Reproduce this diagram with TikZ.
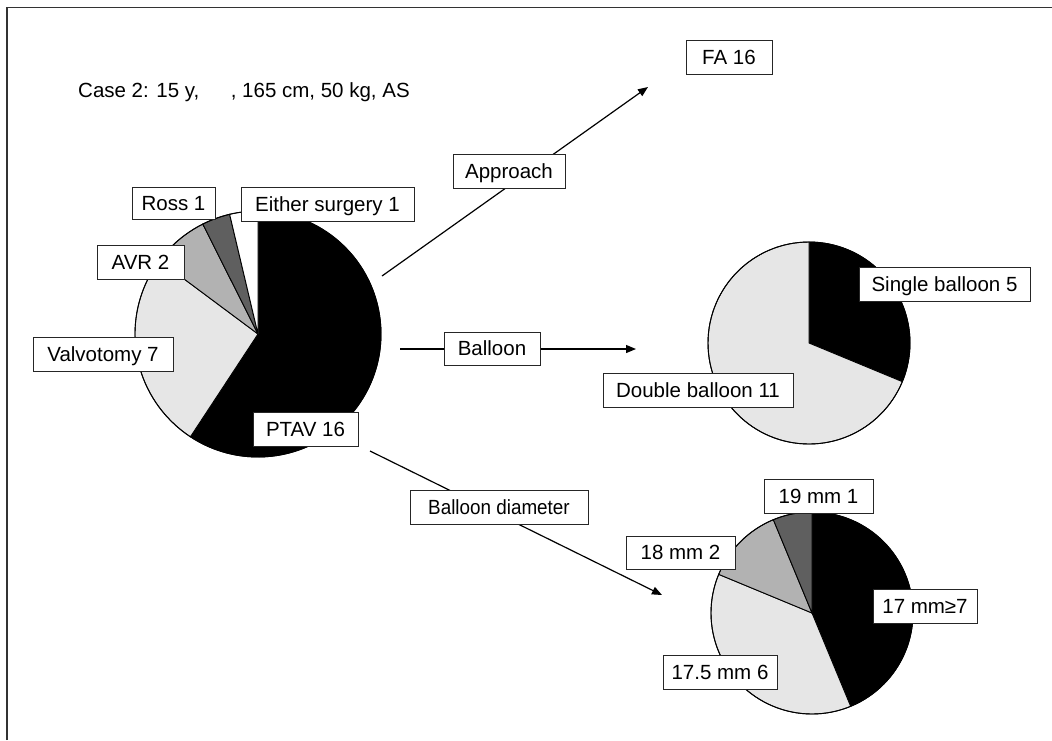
\documentclass[tikz,border=0pt]{standalone}
\usepackage{fontspec}
\setmainfont{Liberation Sans}
\usetikzlibrary{arrows.meta}
\definecolor{sliceLight}{HTML}{E6E6E6}
\definecolor{sliceMid}{HTML}{B2B2B2}
\definecolor{sliceDark}{HTML}{5F5F5F}
% one pie sector: centre x, centre y, radius, start angle, end angle (ccw), fill
\newcommand{\drawslice}[6]{%
  \filldraw[slice, fill=#6] (#1,#2) -- ++({-(#4)}:#3)
    arc[start angle={-(#4)}, end angle={-(#5)}, radius=#3] -- cycle;}
\begin{document}
\begin{tikzpicture}[x=1pt, y=-1pt,
  slice/.style={draw=black, line width=0.9pt},
  rim/.style={draw=black, line width=0.9pt},
  conn/.style={line width=1.2pt, -{Triangle[length=10pt, width=8pt]}},
  lbl/.style={draw=black!85, line width=0.9pt, fill=white, inner sep=0pt,
    minimum height=34pt, text height=14.7pt, text depth=0pt,
    font=\fontsize{20.5}{24}\selectfont},
  frame/.style={draw=black!80, line width=1.6pt}]
\useasboundingbox (0,0) rectangle (1052,740);

% page frame
\draw[frame] (6.8,740) -- (6.8,7.5) -- (1052,7.5);

% heading
\node[anchor=base west, inner sep=0pt, font=\fontsize{20.5}{24}\selectfont]
  (head) at (78,97) {Case 2: 15 y,\hspace{31.5pt}, 165 cm, 50 kg, AS};

% treatment pie
\drawslice{258}{334}{123}{236.67}{450}{black}
\drawslice{258}{334}{123}{143.33}{236.67}{sliceLight}
\drawslice{258}{334}{123}{116.67}{143.33}{sliceMid}
\drawslice{258}{334}{123}{103.33}{116.67}{sliceDark}
\drawslice{258}{334}{123}{90}{103.33}{white}
\draw[rim] (258,334) circle[radius=123];

% balloon pie
\drawslice{809}{343}{101}{-22.5}{90}{black}
\drawslice{809}{343}{101}{90}{337.5}{sliceLight}
\draw[rim] (809,343) circle[radius=101];

% balloon diameter pie
\drawslice{812}{613}{101}{-67.5}{90}{black}
\drawslice{812}{613}{101}{157.5}{292.5}{sliceLight}
\drawslice{812}{613}{101}{112.5}{157.5}{sliceMid}
\drawslice{812}{613}{101}{90}{112.5}{sliceDark}
\draw[rim] (812,613) circle[radius=101];

% connectors
\coordinate (apS) at (382,276);
\coordinate (apE) at (648,87);
\coordinate (baS) at (400,349);
\coordinate (baE) at (636,349);
\coordinate (bdS) at (370,451);
\coordinate (bdE) at (662,595);
\draw[conn] (apS) -- (apE);
\draw[conn] (baS) -- (baE);
\draw[conn] (bdS) -- (bdE);

% connector labels
\node[lbl, minimum width=112pt] (approach) at (509,171) {Approach};
\node[lbl, minimum width=96pt, minimum height=33pt] (balloon) at (492,348.5) {Balloon};
\node[lbl, minimum width=178pt] (diam) at (499,507) {\scalebox{0.92}[1]{Balloon diameter}};
\node[lbl, minimum width=86pt] (fa) at (729,57) {FA 16};

% treatment labels
\node[lbl, minimum width=83pt, minimum height=32pt] (ross) at (173.5,203) {Ross 1};
\node[lbl, minimum width=173pt] (either) at (327.5,204) {Either surgery 1};
\node[lbl, minimum width=87pt] (avr) at (140.5,262) {AVR 2};
\node[lbl, minimum width=140pt] (valv) at (103,354) {Valvotomy 7};
\node[lbl, minimum width=105pt] (ptav) at (305.5,429) {PTAV 16};

% balloon labels
\node[lbl, minimum width=171pt] (single) at (944.5,284) {Single balloon 5};
\node[lbl, minimum width=190pt] (double) at (698,390) {Double balloon 11};

% diameter labels
\node[lbl, minimum width=109pt] (d19) at (818.5,496) {19 mm 1};
\node[lbl, minimum width=109pt, minimum height=33pt] (d18) at (680.5,552.5) {18 mm 2};
\node[lbl, minimum width=104pt] (d17) at (925,606) {17 mm≥7};
\node[lbl, minimum width=114pt] (d175) at (720,672) {17.5 mm 6};
\end{tikzpicture}
\end{document}
